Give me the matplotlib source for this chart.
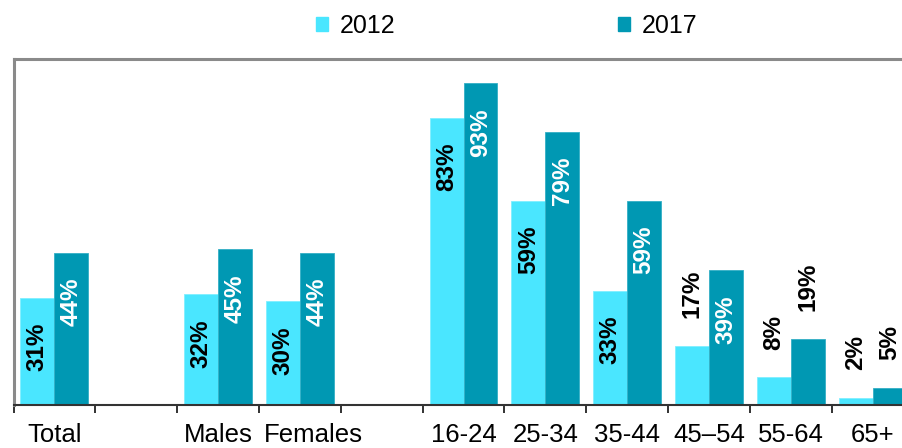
import numpy as np
import matplotlib
matplotlib.use("Agg")
import matplotlib.pyplot as plt
from matplotlib.patches import Patch
from matplotlib.transforms import ScaledTranslation

plt.rcParams['font.family'] = ['Liberation Sans', 'DejaVu Sans']

categories = ['Total', '', 'Males', 'Females', '', '16-24', '25-34', '35-44', '45–54', '55-64', '65+']
values_2012 = [31, np.nan, 32, 30, np.nan, 83, 59, 33, 17, 8, 2]
values_2017 = [44, np.nan, 45, 44, np.nan, 93, 79, 59, 39, 19, 5]
series_names = ['2012', '2017']

c2012 = '#4AE6FF'
c2017 = '#0098B3'

fig = plt.figure(figsize=(9.02, 4.48), dpi=100)
ax = fig.add_axes([13.5 / 902, 43 / 448, 900 / 902, 346 / 448])

x = np.arange(len(categories))
w = 0.415
ax.bar(x - w / 2, values_2012, w, color=c2012, edgecolor='#7FEFFF', linewidth=0.6)
ax.bar(x + w / 2, values_2017, w, color=c2017, edgecolor='#33AFC5', linewidth=0.6)

ax.set_xlim(-0.5, len(categories) - 0.5)
ax.set_ylim(0, 100)

def label(xs, vals, inside_color):
    for xi, v in zip(xs, vals):
        if np.isnan(v):
            continue
        txt = f'{int(v)}%'
        if v >= 25:
            ax.annotate(txt, (xi, v), xytext=(0, -18), textcoords='offset points',
                        rotation=90, ha='center', va='top', fontsize=17.5,
                        fontweight='bold', color=inside_color)
        else:
            ax.annotate(txt, (xi, v), xytext=(0, 20), textcoords='offset points',
                        rotation=90, ha='center', va='bottom', fontsize=17.5,
                        fontweight='bold', color='black')

label(x - w / 2, values_2012, 'black')
label(x + w / 2, values_2017, 'white')

ax.set_yticks([])
ax.set_xticks(x)
ax.set_xticklabels(categories, fontsize=18.5)
ax.set_xticks(np.arange(-0.5, len(categories) + 0.5, 1), minor=True)
ax.tick_params(axis='x', which='major', length=0, pad=13)
ax.tick_params(axis='x', which='minor', length=6, width=1.3, color='#222222', direction='out')

# Females label sits a little right of its slot centre in the reference
for t in ax.get_xticklabels():
    if t.get_text() == 'Females':
        t.set_transform(t.get_transform() + ScaledTranslation(14 / 100, 0, fig.dpi_scale_trans))

for s in ['left', 'top']:
    ax.spines[s].set_color('#8A8A8A')
    ax.spines[s].set_linewidth(2.2)
ax.spines['right'].set_visible(False)
ax.spines['bottom'].set_color('#333333')
ax.spines['bottom'].set_linewidth(1.5)

handles = [Patch(color=c2012), Patch(color=c2017)]
fig.legend(handles, series_names, loc='center', bbox_to_anchor=(507 / 902, 1 - 26 / 448),
           ncol=2, frameon=False, fontsize=18, handlelength=0.45, handleheight=0.45,
           handletextpad=0.5, columnspacing=8.9, borderaxespad=0)

fig.savefig('out.png', dpi=100)
